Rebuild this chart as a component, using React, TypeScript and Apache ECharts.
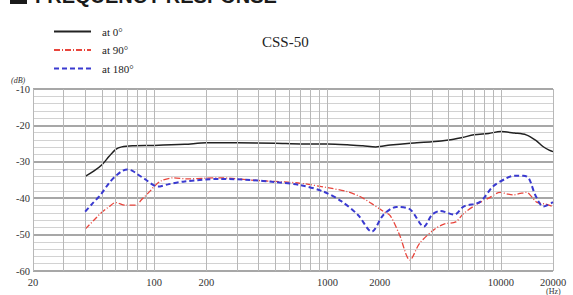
import React, { useEffect, useRef } from "react";
import * as echarts from "echarts";

const seriesNames = ["at 0°", "at 90°", "at 180°"];

const freq0 = [40, 45, 50, 55, 60, 65, 75, 100, 150, 200, 300, 500, 700, 1000, 1300, 1600, 1900, 2300, 3000, 4000, 5000, 6000, 7000, 8500, 10000, 12000, 14000, 16000, 17500, 19000, 20000];
const db0 = [-34.0, -32.5, -30.8, -28.5, -26.6, -25.9, -25.6, -25.5, -25.2, -24.8, -24.8, -24.9, -25.1, -25.1, -25.3, -25.6, -25.9, -25.4, -24.9, -24.5, -24.0, -23.3, -22.6, -22.2, -21.7, -22.1, -22.6, -24.2, -25.8, -26.8, -27.2];

const freq90 = [40, 45, 49, 55, 60, 68, 78, 85, 95, 100, 110, 130, 155, 200, 240, 360, 500, 700, 1000, 1300, 1550, 1800, 2100, 2300, 2600, 2990, 3400, 4100, 4700, 5500, 6100, 7300, 8500, 9900, 11000, 11800, 12900, 14100, 15000, 16100, 18000, 20000];
const db90 = [-48.5, -46.0, -44.2, -42.3, -41.2, -41.9, -41.9, -40.3, -38.0, -36.8, -35.2, -34.4, -34.7, -34.5, -34.4, -35.0, -35.4, -35.9, -37.1, -38.2, -39.6, -41.5, -43.6, -44.8, -50.0, -57.0, -52.4, -48.7, -47.1, -46.5, -44.2, -41.6, -40.0, -38.4, -38.9, -39.1, -38.7, -38.4, -39.5, -41.1, -41.6, -42.3];

const freq180 = [40, 44, 49, 55, 60, 65, 70, 75, 80, 90, 99, 105, 120, 150, 240, 360, 500, 700, 950, 1200, 1500, 1800, 2100, 2500, 3000, 3600, 4000, 4460, 5400, 6100, 7600, 9000, 10800, 12000, 13500, 14500, 15800, 17600, 20000];
const db180 = [-43.7, -41.5, -39.1, -35.8, -33.9, -32.6, -32.1, -32.5, -33.4, -35.0, -36.4, -36.8, -36.2, -35.4, -34.7, -35.0, -35.6, -36.4, -38.2, -40.8, -44.6, -49.2, -44.6, -42.4, -43.1, -47.8, -44.6, -43.5, -44.5, -42.3, -41.0, -36.8, -34.5, -33.8, -33.8, -34.5, -39.1, -42.3, -41.1];

const gridFreqs = [20, 30, 40, 50, 60, 70, 80, 90, 100, 200, 300, 400, 500, 600, 700, 800, 900, 1000, 2000, 3000, 4000, 5000, 6000, 7000, 8000, 9000, 10000, 20000];
const labeledFreqs = [20, 100, 200, 1000, 2000, 10000, 20000];

const zip = (f: number[], d: number[]) => f.map((v, i) => [v, d[i]]);

const SERIF = "'Liberation Serif', 'DejaVu Serif', serif";

export default function App() {
  const ref = useRef<HTMLDivElement>(null);
  useEffect(() => {
    if (!ref.current) return;
    const chart = echarts.init(ref.current, null, { renderer: "svg" });
    chart.setOption({
      animation: false,
      backgroundColor: "#ffffff",
      title: {
        text: "CSS-50",
        left: 257,
        top: 29,
        textStyle: { fontFamily: SERIF, fontSize: 15, fontWeight: "normal", color: "#222" },
      },
      legend: {
        data: seriesNames,
        orient: "vertical",
        left: 48,
        top: 21,
        itemWidth: 37,
        itemHeight: 12,
        itemGap: 7.5,
        itemStyle: { opacity: 0, color: "rgba(0,0,0,0)", borderWidth: 0 },
        textStyle: { fontFamily: SERIF, fontSize: 11, color: "#222", padding: [0, 0, 0, 6] },
      },
      grid: { left: 33, right: 20, top: 89, bottom: 24 },
      xAxis: {
        type: "log",
        logBase: 10,
        min: 20,
        max: 20000,
        axisLabel: {
          show: true,
          customValues: labeledFreqs,
          formatter: (v: number) => String(Math.round(v)),
          fontFamily: SERIF,
          fontSize: 10.5,
          color: "#333",
          margin: 6,
          alignMinLabel: "center",
          alignMaxLabel: "center",
        },
        axisTick: { show: false },
        axisLine: { show: false },
        splitLine: { show: false },
      },
      yAxis: {
        type: "value",
        min: -60,
        max: -10,
        interval: 10,
        axisLine: { show: false },
        axisTick: { show: false },
        axisLabel: { fontFamily: SERIF, fontSize: 10.5, color: "#333", margin: 3 },
        splitLine: { show: true, lineStyle: { color: "#8a8a8a", width: 1.6 } },
        minorTick: { show: false, splitNumber: 5 },
        minorSplitLine: { show: true, lineStyle: { color: "#d2d2d2", width: 1 } },
      },
      graphic: [
        { type: "rect", shape: { x: 10, y: -14, width: 17, height: 18 }, style: { fill: "#1a1a1a" } },
        {
          type: "text",
          x: 35,
          y: -4,
          style: {
            text: "FREQUENCY RESPONSE",
            fontFamily: "'Liberation Sans', Arial, sans-serif",
            fontSize: 20,
            fontWeight: "bold",
            fill: "#1a1a1a",
            verticalAlign: "middle",
          },
        },
        {
          type: "text",
          x: 11,
          y: 80,
          style: { text: "(dB)", fontFamily: SERIF, fontSize: 8, fontStyle: "italic", fill: "#333", verticalAlign: "middle" },
        },
        {
          type: "text",
          x: 546,
          y: 291,
          style: { text: "(Hz)", fontFamily: SERIF, fontSize: 8, fill: "#333", verticalAlign: "middle" },
        },
      ],
      series: [
        {
          type: "line",
          data: [],
          z: 1,
          silent: true,
          markLine: {
            silent: true,
            symbol: ["none", "none"],
            animation: false,
            lineStyle: { color: "#b8b8b8", width: 1, type: "solid" },
            label: { show: false },
            data: gridFreqs.map((f) => ({ xAxis: f })),
          },
        },
        {
          name: seriesNames[0],
          type: "line",
          data: zip(freq0, db0),
          symbol: "none",
          smooth: 0.3,
          z: 3,
          lineStyle: { color: "#222", width: 1.5, type: "solid" },
          itemStyle: { color: "#222" },
        },
        {
          name: seriesNames[1],
          type: "line",
          data: zip(freq90, db90),
          symbol: "none",
          smooth: 0.3,
          z: 4,
          lineStyle: { color: "#e8453c", width: 1.3, type: [6, 2, 1, 2] },
          itemStyle: { color: "#e8453c" },
        },
        {
          name: seriesNames[2],
          type: "line",
          data: zip(freq180, db180),
          symbol: "none",
          smooth: 0.3,
          z: 5,
          lineStyle: { color: "#3a3ad0", width: 2, type: [5, 3] },
          itemStyle: { color: "#3a3ad0" },
        },
      ],
    });
    return () => chart.dispose();
  }, []);
  return <div ref={ref} style={{ position: "fixed", left: 0, top: 0, width: 573, height: 295 }} />;
}
